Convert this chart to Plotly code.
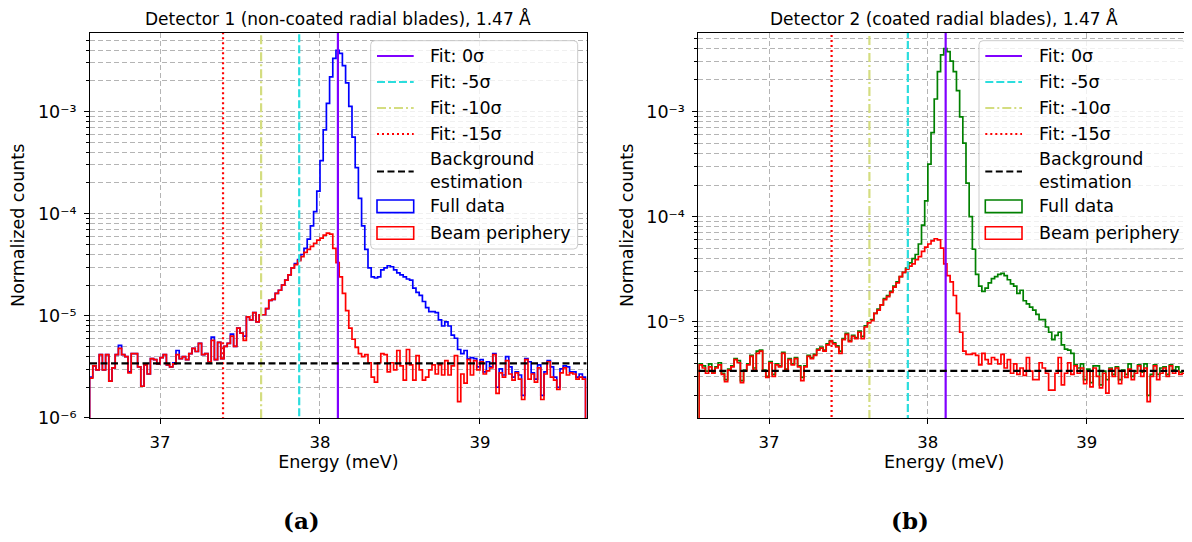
import plotly.graph_objects as go

# ---------------- data ----------------
bin_start = 36.56      # meV, first histogram edge
bin_width = 0.02       # meV
n_bins = 155

# log10(normalized counts) per bin, panel (a)
log_full_a = [
    -5.60, -5.49, -5.53, -5.38, -5.53, -5.38, -5.64, -5.51, -5.38, -5.29,
    -5.38, -5.40, -5.55, -5.37, -5.37, -5.50, -5.69, -5.48, -5.57, -5.42,
    -5.43, -5.47, -5.41, -5.38, -5.48, -5.50, -5.46, -5.34, -5.42, -5.40,
    -5.43, -5.37, -5.32, -5.35, -5.27, -5.38, -5.37, -5.45, -5.21, -5.43,
    -5.26, -5.42, -5.30, -5.27, -5.18, -5.30, -5.12, -5.17, -5.20, -5.01,
    -5.04, -4.97, -5.06, -4.99, -4.99, -4.93, -4.85, -4.84, -4.78, -4.75,
    -4.70, -4.65, -4.60, -4.53, -4.49, -4.45, -4.40, -4.34, -4.25, -4.12,
    -3.98, -3.78, -3.48, -3.18, -2.92, -2.66, -2.48, -2.40, -2.43, -2.55,
    -2.72, -2.95, -3.25, -3.55, -3.85, -4.12, -4.35, -4.53, -4.62, -4.63,
    -4.62, -4.55, -4.53, -4.51, -4.52, -4.55, -4.58, -4.60, -4.62, -4.64,
    -4.65, -4.73, -4.77, -4.80, -4.86, -4.92, -4.96, -4.96, -4.97, -5.04,
    -5.10, -5.06, -5.10, -5.19, -5.22, -5.33, -5.37, -5.34, -5.42, -5.41,
    -5.42, -5.50, -5.43, -5.55, -5.45, -5.50, -5.37, -5.70, -5.52, -5.58,
    -5.40, -5.50, -5.60, -5.55, -5.58, -5.78, -5.42, -5.45, -5.56, -5.62,
    -5.48, -5.78, -5.55, -5.44, -5.50, -5.60, -5.70, -5.52, -5.49, -5.50,
    -5.55, -5.55, -5.60, -5.57, -5.60,
]
log_periph_a = [
    -5.61, -5.49, -5.53, -5.38, -5.53, -5.38, -5.64, -5.51, -5.38, -5.32,
    -5.38, -5.40, -5.56, -5.37, -5.37, -5.50, -5.69, -5.48, -5.57, -5.42,
    -5.43, -5.47, -5.41, -5.38, -5.48, -5.50, -5.47, -5.38, -5.42, -5.40,
    -5.43, -5.37, -5.32, -5.35, -5.27, -5.38, -5.37, -5.45, -5.24, -5.43,
    -5.26, -5.42, -5.30, -5.27, -5.20, -5.30, -5.12, -5.17, -5.24, -5.01,
    -5.04, -4.97, -5.06, -4.99, -4.99, -4.93, -4.85, -4.84, -4.78, -4.75,
    -4.70, -4.65, -4.60, -4.53, -4.50, -4.46, -4.42, -4.38, -4.35, -4.32,
    -4.29, -4.26, -4.24, -4.21, -4.19, -4.20, -4.34, -4.48, -4.62, -4.78,
    -4.95, -5.12, -5.23, -5.31, -5.37, -5.40, -5.38, -5.46, -5.60, -5.65,
    -5.46, -5.37, -5.38, -5.55, -5.46, -5.53, -5.34, -5.49, -5.63, -5.33,
    -5.48, -5.63, -5.39, -5.53, -5.63, -5.60, -5.53, -5.48, -5.57, -5.48,
    -5.58, -5.44, -5.58, -5.49, -5.39, -5.84, -5.57, -5.66, -5.43, -5.58,
    -5.44, -5.53, -5.45, -5.57, -5.54, -5.51, -5.38, -5.76, -5.56, -5.60,
    -5.44, -5.57, -5.63, -5.56, -5.62, -5.82, -5.43, -5.62, -5.57, -5.65,
    -5.51, -5.82, -5.57, -5.45, -5.60, -5.63, -5.72, -5.56, -5.51, -5.58,
    -5.56, -5.57, -5.62, -5.60, -5.62,
]
# panel (b)
log_full_b = [
    -5.40, -5.42, -5.47, -5.40, -5.48, -5.43, -5.39, -5.49, -5.55, -5.45,
    -5.42, -5.35, -5.37, -5.56, -5.46, -5.40, -5.32, -5.44, -5.28, -5.27,
    -5.46, -5.52, -5.38, -5.50, -5.40, -5.42, -5.29, -5.45, -5.35, -5.40,
    -5.34, -5.42, -5.53, -5.42, -5.32, -5.34, -5.31, -5.26, -5.24, -5.27,
    -5.21, -5.18, -5.20, -5.23, -5.28, -5.16, -5.11, -5.18, -5.13, -5.15,
    -5.09, -5.14, -5.04, -5.00, -4.98, -4.92, -4.88, -4.84, -4.78, -4.75,
    -4.71, -4.66, -4.62, -4.57, -4.53, -4.49, -4.44, -4.40, -4.36, -4.26,
    -4.08, -3.85, -3.50, -3.20, -2.88, -2.62, -2.46, -2.40, -2.43, -2.52,
    -2.62, -2.80, -3.05, -3.30, -3.68, -4.00, -4.31, -4.55, -4.66, -4.71,
    -4.68, -4.63, -4.59, -4.57, -4.55, -4.54, -4.56, -4.60, -4.64, -4.66,
    -4.73, -4.70, -4.80, -4.83, -4.86, -4.89, -4.93, -4.98, -4.98, -5.05,
    -5.10, -5.17, -5.13, -5.10, -5.22, -5.26, -5.27, -5.30, -5.41, -5.44,
    -5.40, -5.55, -5.45, -5.58, -5.42, -5.42, -5.60, -5.47, -5.55, -5.44,
    -5.50, -5.43, -5.55, -5.46, -5.50, -5.40, -5.52, -5.47, -5.41, -5.48,
    -5.40, -5.70, -5.50, -5.41, -5.50, -5.44, -5.43, -5.50, -5.41, -5.46,
    -5.43, -5.48, -5.47, -5.46, -5.45,
]
log_periph_b = [
    -5.41, -5.44, -5.49, -5.43, -5.49, -5.44, -5.41, -5.50, -5.57, -5.46,
    -5.43, -5.36, -5.39, -5.58, -5.47, -5.41, -5.33, -5.46, -5.30, -5.28,
    -5.47, -5.53, -5.39, -5.52, -5.41, -5.43, -5.30, -5.46, -5.36, -5.41,
    -5.35, -5.43, -5.56, -5.43, -5.33, -5.35, -5.32, -5.27, -5.25, -5.28,
    -5.22, -5.19, -5.21, -5.24, -5.30, -5.17, -5.12, -5.19, -5.14, -5.16,
    -5.10, -5.16, -5.05, -5.01, -4.99, -4.92, -4.89, -4.84, -4.79, -4.76,
    -4.72, -4.67, -4.63, -4.57, -4.53, -4.50, -4.47, -4.45, -4.41, -4.38,
    -4.33, -4.29, -4.26, -4.23, -4.21, -4.22, -4.30, -4.45, -4.56, -4.62,
    -4.75, -4.92, -5.10, -5.28, -5.31, -5.31, -5.30, -5.32, -5.41, -5.30,
    -5.36, -5.40, -5.34, -5.36, -5.40, -5.31, -5.44, -5.36, -5.49, -5.40,
    -5.50, -5.44, -5.51, -5.34, -5.47, -5.55, -5.55, -5.39, -5.44, -5.49,
    -5.65, -5.65, -5.49, -5.34, -5.60, -5.49, -5.39, -5.50, -5.42, -5.49,
    -5.44, -5.59, -5.47, -5.62, -5.44, -5.52, -5.63, -5.49, -5.68, -5.45,
    -5.52, -5.44, -5.59, -5.47, -5.53, -5.45, -5.55, -5.49, -5.42, -5.52,
    -5.44, -5.76, -5.52, -5.42, -5.55, -5.49, -5.44, -5.52, -5.42, -5.49,
    -5.47, -5.50, -5.49, -5.49, -5.47,
]

fit_labels = ["Fit: 0σ", "Fit: -5σ", "Fit: -10σ", "Fit: -15σ"]
fit_energy_a = [38.112, 37.870, 37.632, 37.394]
fit_energy_b = [38.112, 37.874, 37.632, 37.394]
background_a = 3.42e-6
background_b = 3.41e-6

titles = ["Detector 1 (non-coated radial blades), 1.47 Å",
          "Detector 2 (coated radial blades), 1.47 Å"]
captions = ["(a)", "(b)"]
x_ticks = [37, 38, 39]
y_tick_vals = [1e-6, 1e-5, 1e-4, 1e-3]
y_tick_text = ["10⁻⁶", "10⁻⁵", "10⁻⁴", "10⁻³"]
y_minor_vals = [m * 10.0 ** d for d in range(-7, -1) for m in range(2, 10)]

# ---------------- styling ----------------
W, H = 1192, 542
OFF = 8.0            # page body margin offset of the rendered figure
FONT = "DejaVu Sans"
fit_colors = ["#8000ff", "#2bdddd", "#d4dd80", "#ff0000"]
fit_dash = ["solid", "8px,3px", "9px,3px,2px,3px", "2px,3px"]
bg_dash = "7px,3.5px"
full_colors = ["#0000ff", "#008000"]
periph_color = "#ff0000"
grid_color = "#b4b4b4"
grid_dash = "5px,3px"
LEG_SIZE = 17.5


def px(x):
    return (x - OFF) / W


def py(y):
    return 1 - (y - OFF) / H


panels = [
    dict(xdom=[px(90), px(586.7)], xr=[36.5625, 39.667], yr=[-6.0, -2.228],
         full=log_full_a, per=log_periph_a, fits=fit_energy_a, bg=background_a,
         legx=370.7, cx=338.3, capx=301.5),
    dict(xdom=[px(698.3), px(1190)], xr=[36.555, 39.65], yr=[-5.915, -2.249],
         full=log_full_b, per=log_periph_b, fits=fit_energy_b, bg=background_b,
         legx=979.0, cx=944.2, capx=909.5),
]
ydom = [py(417.9), py(32.7)]

edges = [bin_start + bin_width * k for k in range(n_bins + 1)]
FLOOR = 1e-9


def step_xy(logvals):
    vals = [10 ** v for v in logvals]
    xs = [edges[0]] + edges + [edges[-1]]
    ys = [FLOOR] + vals + [vals[-1]] + [FLOOR]
    return xs, ys


fig = go.Figure()
shapes = []
annotations = []

for p_i, P in enumerate(panels):
    xa = "x" if p_i == 0 else "x2"
    ya = "y" if p_i == 0 else "y2"
    # histograms
    xs, ys = step_xy(P["full"])
    fig.add_trace(go.Scatter(x=xs, y=ys, mode="lines", line_shape="hv",
                             line=dict(color=full_colors[p_i], width=1.7),
                             xaxis=xa, yaxis=ya, showlegend=False))
    xs, ys = step_xy(P["per"])
    fig.add_trace(go.Scatter(x=xs, y=ys, mode="lines", line_shape="hv",
                             line=dict(color=periph_color, width=1.7),
                             xaxis=xa, yaxis=ya, showlegend=False))
    # fit lines
    for k, e in enumerate(P["fits"]):
        fig.add_trace(go.Scatter(x=[e, e], y=[FLOOR, 1.0], mode="lines",
                                 line=dict(color=fit_colors[k], width=2.2, dash=fit_dash[k]),
                                 xaxis=xa, yaxis=ya, showlegend=False))
    # background
    fig.add_trace(go.Scatter(x=[P["xr"][0], P["xr"][1]], y=[P["bg"], P["bg"]],
                             mode="lines", line=dict(color="black", width=2.2, dash=bg_dash),
                             xaxis=xa, yaxis=ya, showlegend=False))

    # ---------- manual legend ----------
    L = P["legx"]
    R = L + 207.0
    T, B = 40.7, 249.0
    r = 4.0
    rx, ry = r / W, r / H
    x0, x1, y0, y1 = px(L), px(R), py(T), py(B)
    path = (f"M{x0+rx},{y0} L{x1-rx},{y0} Q{x1},{y0} {x1},{y0-ry} "
            f"L{x1},{y1+ry} Q{x1},{y1} {x1-rx},{y1} L{x0+rx},{y1} "
            f"Q{x0},{y1} {x0},{y1+ry} L{x0},{y0-ry} Q{x0},{y0} {x0+rx},{y0} Z")
    shapes.append(dict(type="path", path=path, xref="paper", yref="paper",
                       fillcolor="rgba(255,255,255,0.8)",
                       line=dict(color="#cccccc", width=1), layer="above"))
    sx0, sx1 = L + 6.3, L + 43.0
    tx = L + 57.6
    rows = [56.0, 82.0, 108.0, 134.0]
    for k, yy in enumerate(rows):
        shapes.append(dict(type="line", xref="paper", yref="paper",
                           x0=px(sx0), x1=px(sx1), y0=py(yy), y1=py(yy),
                           line=dict(color=fit_colors[k], width=2.2, dash=fit_dash[k]),
                           layer="above"))
        annotations.append(dict(text=fit_labels[k], x=px(tx), y=py(yy), xref="paper",
                                yref="paper", xanchor="left", yanchor="middle",
                                showarrow=False,
                                font=dict(family=FONT, size=LEG_SIZE, color="black")))
    shapes.append(dict(type="line", xref="paper", yref="paper",
                       x0=px(sx0), x1=px(sx1), y0=py(171.5), y1=py(171.5),
                       line=dict(color="black", width=2.2, dash=bg_dash), layer="above"))
    annotations.append(dict(text="Background<br>estimation", x=px(tx), y=py(170.5),
                            xref="paper", yref="paper", xanchor="left", yanchor="middle",
                            align="left", showarrow=False,
                            font=dict(family=FONT, size=LEG_SIZE, color="black")))
    for yy, col, lab in [(206.3, full_colors[p_i], "Full data"),
                         (233.0, periph_color, "Beam periphery")]:
        shapes.append(dict(type="rect", xref="paper", yref="paper",
                           x0=px(sx0), x1=px(sx1), y0=py(yy + 6.3), y1=py(yy - 6.3),
                           line=dict(color=col, width=1.6), fillcolor="rgba(0,0,0,0)",
                           layer="above"))
        annotations.append(dict(text=lab, x=px(tx), y=py(yy), xref="paper", yref="paper",
                                xanchor="left", yanchor="middle", showarrow=False,
                                font=dict(family=FONT, size=LEG_SIZE, color="black")))

    # titles and captions
    annotations.append(dict(text=titles[p_i], x=px(P["cx"]), y=py(19.0), xref="paper",
                            yref="paper", xanchor="center", yanchor="middle",
                            showarrow=False,
                            font=dict(family=FONT, size=17, color="black")))
    annotations.append(dict(text="<b>" + captions[p_i] + "</b>", x=px(P["capx"]), y=py(520),
                            xref="paper", yref="paper", xanchor="center", yanchor="middle",
                            showarrow=False,
                            font=dict(family="DejaVu Serif", size=23, color="black")))

axis_common = dict(showline=True, mirror=True, linecolor="black", linewidth=1,
                   ticks="outside", tickcolor="black", tickwidth=1, ticklen=5,
                   zeroline=False, automargin=False,
                   showgrid=True, gridcolor=grid_color, griddash=grid_dash, gridwidth=1,
                   tickfont=dict(family=FONT, size=16.5, color="black"))

layout = dict(width=W, height=H, margin=dict(l=0, r=0, t=0, b=0),
              paper_bgcolor="white", plot_bgcolor="white", showlegend=False,
              shapes=shapes, annotations=annotations)

for p_i, P in enumerate(panels):
    xk = "xaxis" if p_i == 0 else "xaxis2"
    yk = "yaxis" if p_i == 0 else "yaxis2"
    xaxis = dict(axis_common, domain=P["xdom"], range=P["xr"], tickvals=x_ticks,
                 anchor="y" if p_i == 0 else "y2", ticklabelstandoff=4,
                 title=dict(text="Energy (meV)", standoff=5,
                            font=dict(family=FONT, size=17.5, color="black")))
    yaxis = dict(axis_common, domain=ydom, type="log", range=P["yr"],
                 tickmode="array", tickvals=y_tick_vals, ticktext=y_tick_text,
                 ticklabelstandoff=4, tickfont=dict(family=FONT, size=17.5, color="black"),
                 anchor="x" if p_i == 0 else "x2",
                 minor=dict(tickmode="array", tickvals=y_minor_vals, ticks="outside",
                            ticklen=3, tickcolor="black",
                            showgrid=True, gridcolor=grid_color, griddash=grid_dash, gridwidth=1),
                 title=dict(text="Normalized counts", standoff=8,
                            font=dict(family=FONT, size=17.5, color="black")))
    layout[xk] = xaxis
    layout[yk] = yaxis

fig.update_layout(**layout)
fig.write_html("out.html")
